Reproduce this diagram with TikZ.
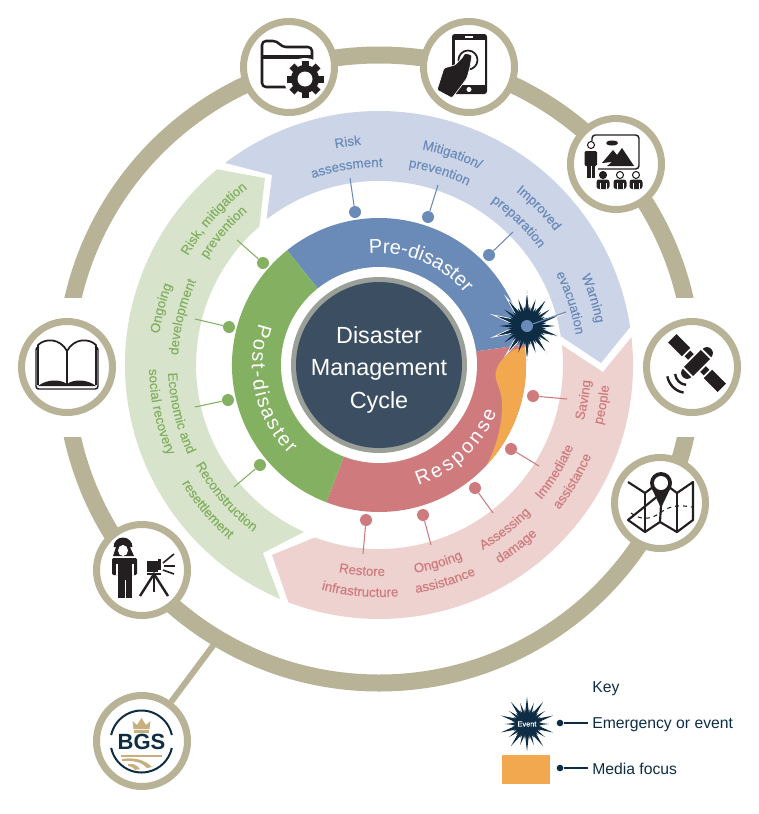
\documentclass[tikz,border=0pt]{standalone}
\usepackage{fontspec}
\setmainfont{Liberation Sans}
\newfontfamily\labelface[FakeBold=0.25]{Liberation Sans}
\usetikzlibrary{calc}
\usetikzlibrary{shapes.geometric}
\usetikzlibrary{decorations.text}

\definecolor{ringtan}{HTML}{B8B396}
\definecolor{navy}{HTML}{0E2D45}
\definecolor{slate}{HTML}{3C4F62}
\definecolor{slategrey}{HTML}{9A9F98}
\definecolor{predark}{HTML}{6A8BB8}
\definecolor{prelight}{HTML}{CCD5E7}
\definecolor{respdark}{HTML}{CF7B7E}
\definecolor{resplight}{HTML}{EED2CF}
\definecolor{postdark}{HTML}{83B061}
\definecolor{postlight}{HTML}{D7E3CA}
\definecolor{mediaorange}{HTML}{F2A84E}
\definecolor{icongrey}{HTML}{231F20}
\definecolor{crowntan}{HTML}{C8B07E}

\tikzset{
    iconring/.style={circle,draw=ringtan,line width=5.25pt,fill=white,minimum size=68.25pt,inner sep=0pt},
    pindot/.style={circle,minimum size=9pt,inner sep=0pt},
    pinline/.style={line width=0.8pt},
    eventlong/.style={star,star points=10,star point ratio=3.6,fill=navy,inner sep=0pt},
    eventshort/.style={star,star points=20,star point ratio=1.7,fill=navy,inner sep=0pt},
    keytext/.style={anchor=west,text=navy,font=\fontsize{11.8}{14}\selectfont,inner sep=0pt},
    keydot/.style={circle,fill=navy,minimum size=5pt,inner sep=0pt},
    iconstroke/.style={icongrey,line width=1.6pt,line join=round}
}

\newcommand{\labelfont}{\labelface\fontsize{10}{12}\selectfont}
\newcommand{\ringfont}{\fontsize{15}{18}\selectfont}

%% curved labels: colour, baseline radius, middle angle, text
\newcommand{\cwlabel}[4]{\path[decorate,decoration={text along path,text align=center,text={|\labelfont\color{#1}|#4}}] (#3+45:#2) arc[start angle=#3+45,delta angle=-90,radius=#2];}
\newcommand{\ccwlabel}[4]{\path[decorate,decoration={text along path,text align=center,text={|\labelfont\color{#1}|#4}}] (#3-45:#2) arc[start angle=#3-45,delta angle=90,radius=#2];}

\begin{document}
\begin{tikzpicture}[x=0.75pt,y=0.75pt]
    \useasboundingbox (0,0) rectangle (758,-814);

    %% big outer ring with its two gaps
    \draw[ringtan,line width=12.75pt] (379,-369) circle (314);
    \fill[white] (0,-298) rectangle (758,-437);

    %% arrow bands, ring and middle
    \begin{scope}[shift={(379,-365)}]
        \fill[prelight] (127.3:254) arc[start angle=127.3,end angle=8.6,radius=254] -- (0.5:222) -- (9:184) arc[start angle=9,end angle=127.7,radius=184] -- (119.4:218) -- cycle;
        \fill[resplight] (6.3:254) arc[start angle=6.3,end angle=-110.9,radius=254] -- (-119.4:218) -- (-110.4:184) arc[start angle=-110.4,end angle=6.2,radius=184] -- (-1.8:224) -- cycle;
        \fill[postlight] (247.1:254) arc[start angle=247.1,end angle=129.6,radius=254] -- (121.4:219) -- (130.8:183) arc[start angle=130.8,end angle=245.8,radius=183] -- (238.3:221) -- cycle;

        \fill[predark] (128.7:147) arc[start angle=128.7,end angle=8,radius=147] -- (0,0) -- cycle;
        \fill[respdark] (8:147) arc[start angle=8,end angle=-111,radius=147] -- (0,0) -- cycle;
        \fill[postdark] (249:147) arc[start angle=249,end angle=128.7,radius=147] -- (0,0) -- cycle;
        \fill[mediaorange] (7:147) arc[start angle=7,end angle=-43,radius=147] .. controls (116,-85) and (124,-60) .. (123,-38) .. controls (122,-20) and (113,-15) .. (118,-3) .. controls (121,5) and (128,10) .. (134,15) -- cycle;

        \fill[white] (0,0) circle (98);
        \fill[slategrey] (0,0) circle (88);
        \fill[slate] (0,0) circle (83);

        %% ring titles
        \path[decorate,decoration={text along path,text align=fit to path,text={|\ringfont\color{white}|Pre-disaster}}] (95:112) arc[start angle=95,end angle=40,radius=112];
        \path[decorate,decoration={text along path,text align=fit to path,text={|\ringfont\color{white}|Post-disaster}}] (161:127) arc[start angle=161,end angle=225,radius=127];
        \path[decorate,decoration={text along path,text align=fit to path,text={|\ringfont\color{white}|Response}}] (-72:127) arc[start angle=-72,end angle=-22,radius=127];

        %% band labels
        \cwlabel{predark}{221}{98}{Risk}
        \cwlabel{predark}{198}{99.3}{assessment}
        \cwlabel{predark}{220}{70.8}{Mitigation/}
        \cwlabel{predark}{200}{72.6}{prevention}
        \cwlabel{predark}{221}{44.5}{Improved}
        \cwlabel{predark}{198}{45.8}{preparation}
        \cwlabel{predark}{221}{17.3}{Warning}
        \cwlabel{predark}{199}{18}{evacuation}

        \ccwlabel{respdark}{212}{-9.7}{Saving}
        \ccwlabel{respdark}{231}{-10.1}{people}
        \ccwlabel{respdark}{211}{-31.3}{Immediate}
        \ccwlabel{respdark}{231}{-31}{assistance}
        \ccwlabel{respdark}{212}{-52.5}{Assessing}
        \ccwlabel{respdark}{232}{-52.9}{damage}
        \ccwlabel{respdark}{211}{-73.4}{Ongoing}
        \ccwlabel{respdark}{231}{-73}{assistance}
        \ccwlabel{respdark}{211}{-94.7}{Restore}
        \ccwlabel{respdark}{232}{-94.8}{infrastructure}

        \cwlabel{postdark}{220}{138.5}{Risk, mitigation}
        \cwlabel{postdark}{202}{139.5}{prevention}
        \cwlabel{postdark}{222}{165.4}{Ongoing}
        \cwlabel{postdark}{201}{166.3}{development}
        \ccwlabel{postdark}{211}{193.6}{Economic and}
        \ccwlabel{postdark}{230}{192.1}{social recovery}
        \ccwlabel{postdark}{209}{220.8}{Reconstruction}
        \ccwlabel{postdark}{230}{220.1}{resettlement}
    \end{scope}

    \node[align=center,text=white,font=\fontsize{17.5}{24.4}\selectfont] (title) at (379,-369.5) {Disaster\\Management\\Cycle};

    %% emergency star
    \node[eventlong,draw=white,line width=0.5pt,minimum size=54pt] (eventa) at (527,-326) {};
    \node[eventlong,minimum size=42pt,rotate=18] (eventb) at (527,-326) {};
    \node[eventshort,minimum size=30pt,rotate=9] (eventc) at (527,-326) {};

    %% pins on the ring
    \foreach \name/\xa/\ya/\xb/\yb in {risk/355/212/350/178,mitigation/428/217/438/185,improved/489/255/513/232,warning/527/326/566/312} {
        \node[pindot,fill=predark] (\name dot) at (\xa,-\ya) {};
        \coordinate (\name end) at (\xb,-\yb);
        \draw[pinline,predark] (\name dot) -- (\name end);
    }
    \foreach \name/\xa/\ya/\xb/\yb in {saving/533/396/567/399,immediate/511/449/539/466,assessing/475/488/493/513,ongoing/423/515/431/545,restore/366/520/363/554} {
        \node[pindot,fill=respdark] (\name dot) at (\xa,-\ya) {};
        \coordinate (\name end) at (\xb,-\yb);
        \draw[pinline,respdark] (\name dot) -- (\name end);
    }
    \foreach \name/\xa/\ya/\xb/\yb in {mitigate/263/263/237/240,develop/229/327/195/319,economic/228/400/195/407,rebuild/260/465/234/487} {
        \node[pindot,fill=postdark] (\name dot) at (\xa,-\ya) {};
        \coordinate (\name end) at (\xb,-\yb);
        \draw[pinline,postdark] (\name dot) -- (\name end);
    }

    %% icon circles
    \node[iconring] (folder) at (289,-67) {};
    \node[iconring] (phone) at (469,-67) {};
    \node[iconring] (teach) at (616,-164) {};
    \node[iconring] (satellite) at (692,-367) {};
    \node[iconring] (map) at (660,-503) {};
    \node[iconring] (survey) at (142,-570) {};
    \node[iconring] (book) at (67,-367) {};
    \node[iconring] (bgs) at (142,-741) {};
    \coordinate (bgsfoot) at (215,-643);
    \draw[ringtan,line width=4.5pt] (bgs) -- (bgsfoot);

    %% folder
    \draw[iconstroke,line width=1.9pt,rounded corners=3] (262,-56) -- (262,-41) -- (277,-41) -- (282,-47) -- (312,-47) -- (312,-87) -- (262,-87) -- cycle;
    \fill[icongrey] (262,-55) rectangle (312,-59);
    \fill[white] (305,-79) circle (21);
    \foreach \a in {0,45,...,315} {
        \fill[icongrey,shift={(305,-79)},rotate=\a] (-3.5,8) rectangle (3.5,18.5);
    }
    \fill[icongrey] (305,-79) circle (14);
    \fill[white] (305,-79) circle (7.5);

    %% phone
    \fill[icongrey,rounded corners=2] (452,-34) rectangle (487,-94);
    \fill[white] (454.5,-39.5) rectangle (484.5,-85);
    \fill[white] (465,-36) rectangle (473,-37.5);
    \fill[white] (469,-89.5) circle (2.5);
    \draw[icongrey,line width=1.3pt] (468,-60) circle (9.5);
    \fill[icongrey,draw=white,line width=0.5pt,rounded corners=1] (437,-90) -- (444,-68) -- (455,-65) -- (462,-58) -- (465,-53) -- (472,-55) -- (470,-67) -- (467,-78) -- (462,-85) -- (452,-98) -- cycle;

    %% teaching
    \draw[iconstroke,line width=1.1pt,rounded corners=2.5] (592,-141) -- (592,-135) -- (639,-135) -- (639,-169) -- (598,-169);
    \fill[icongrey] (602,-163) -- (613,-150) -- (617,-155) -- (622,-148) -- (634,-166) -- (607,-166) -- (612,-162) -- cycle;
    \fill[icongrey] (612,-143) ellipse [x radius=6,y radius=2.5];
    \draw[icongrey,line width=0.8pt] (591,-145) circle (3.5);
    \fill[icongrey,rounded corners=1] (584.5,-151) rectangle (597,-166);
    \fill[icongrey] (587,-160) rectangle (595,-178);
    \fill[white] (590.6,-166) rectangle (591.4,-178);
    \foreach \x in {603,620,636} {
        \fill[icongrey,rounded corners=2] (\x-6.5,-189) rectangle (\x+6.5,-179.5);
        \draw[icongrey,line width=0.8pt] (\x,-175) circle (3.5);
        \fill[white] (\x-3.2,-183) rectangle (\x-2.7,-189);
        \fill[white] (\x+2.7,-183) rectangle (\x+3.2,-189);
    }
    \fill[icongrey] (603,-175) circle (3.5);

    %% satellite
    \begin{scope}[shift={(697,-363)},rotate=-45]
        \fill[icongrey] (-6.5,-12) rectangle (6.5,12);
        \fill[icongrey] (8.5,-4) rectangle (13.5,4);
        \fill[icongrey] (-13.5,-4) rectangle (-8.5,4);
        \fill[icongrey] (15.5,-6) rectangle (35,6);
        \fill[icongrey] (-35,-6) rectangle (-15.5,6);
        \fill[icongrey] (-6,14) arc[start angle=180,end angle=0,radius=6] -- cycle;
        \fill[icongrey] (-6,-14) arc[start angle=180,end angle=360,radius=6] -- cycle;
        \draw[icongrey,line width=1.8pt] (-7.7,-23.2) arc[start angle=230,end angle=310,radius=12];
        \draw[icongrey,line width=1.8pt] (-11.5,-30.4) arc[start angle=235,end angle=305,radius=20];
    \end{scope}

    %% map
    \draw[iconstroke] (628,-482) -- (645,-493) -- (653,-487);
    \draw[iconstroke] (669,-487) -- (677,-493) -- (693,-482) -- (693,-520) -- (677,-532) -- (660,-522) -- (645,-532) -- (628,-520) -- cycle;
    \draw[iconstroke] (645,-493) -- (645,-532);
    \draw[iconstroke] (677,-493) -- (677,-532);
    \draw[iconstroke] (661,-505) -- (660,-522);
    \draw[icongrey,line width=0.8pt,dashed] (631,-513) .. controls (640,-520) and (650,-520) .. (660,-513) .. controls (670,-505) and (680,-505) .. (692,-507);
    \fill[icongrey] (652,-489) -- (661,-508) -- (670,-489) -- cycle;
    \fill[icongrey] (661,-483) circle (11);
    \fill[white] (661,-483) circle (7);

    %% surveyor
    \fill[icongrey] (113.5,-547) arc[start angle=180,end angle=0,radius=9.5] -- cycle;
    \fill[icongrey] (113,-556) -- (116,-547) -- (130,-547) -- (134,-556) -- cycle;
    \fill[white] (123,-550.5) ellipse [x radius=5,y radius=5.5];
    \fill[icongrey,rounded corners=1] (112,-558) rectangle (137,-575);
    \fill[icongrey] (118,-558) rectangle (132,-598);
    \fill[white] (116,-564) rectangle (118,-575);
    \fill[white] (132,-564) rectangle (134,-575);
    \fill[white] (124.5,-580) rectangle (125.5,-598);
    \fill[icongrey] (147,-561) rectangle (158,-572);
    \fill[icongrey] (158,-559) rectangle (160.5,-570);
    \fill[icongrey] (147,-573) rectangle (161,-575);
    \draw[icongrey,line width=1.8pt] (140,-596) -- (154,-574) -- (168,-596);
    \draw[icongrey,line width=1.6pt] (154,-574) -- (154,-592);
    \draw[icongrey,line width=1.2pt] (163,-563) -- (174,-554);
    \draw[icongrey,line width=1.2pt] (164,-566) -- (175,-566);
    \draw[icongrey,line width=1.2pt] (163,-570) -- (174,-574);

    %% book
    \draw[iconstroke,line width=1.1pt,rounded corners=2] (38,-347) -- (36,-347) -- (36,-389) -- (98,-389) -- (98,-347) -- (96,-347);
    \draw[iconstroke,line width=1.3pt] (67,-351) .. controls (60,-338) and (45,-338) .. (38,-345) -- (38,-385);
    \draw[iconstroke,line width=1.3pt] (67,-351) .. controls (74,-338) and (89,-338) .. (96,-345) -- (96,-385);
    \draw[icongrey,line width=1.7pt] (67,-351) -- (67,-386);
    \fill[icongrey] (38,-386) .. controls (47,-379) and (60,-379) .. (67,-384) .. controls (74,-379) and (87,-379) .. (96,-386) -- cycle;

    %% BGS badge
    \draw[navy,line width=1.5pt] (12:31) ++(141.5,-741.5) arc[start angle=12,end angle=168,radius=31];
    \draw[navy,line width=1.5pt] (192:31) ++(141.5,-741.5) arc[start angle=192,end angle=348,radius=31];
    \fill[crowntan] (132.5,-721) -- (137,-725) -- (141.5,-718) -- (146,-725) -- (150.5,-721) -- (149.5,-729) -- (133.5,-729) -- cycle;
    \fill[crowntan] (134,-730) rectangle (149,-733);
    \node[text=navy,font=\fontsize{16.5}{18}\bfseries,inner sep=0pt] (bgstext) at (141.5,-742) {BGS};
    \fill[crowntan] (121,-755) -- (162,-755) -- (162,-757) -- (121,-757) -- cycle;
    \fill[crowntan] (122,-759) .. controls (135,-757) and (145,-760) .. (152,-767) -- (147,-768) .. controls (142,-762) and (132,-760) .. (122,-761) -- cycle;
    \fill[crowntan] (128,-764) .. controls (133,-763) and (137,-765) .. (140,-769) -- (135,-770) .. controls (133,-767) and (130,-766) .. (128,-766) -- cycle;

    %% key
    \node[keytext] (keytitle) at (592,-688.5) {Key};
    \node[keytext] (keyevent) at (592,-724.5) {Emergency or event};
    \node[keytext] (keymedia) at (592,-768.5) {Media focus};
    \node[eventlong,minimum size=41pt] (keystara) at (527,-724) {};
    \node[eventlong,minimum size=33pt,rotate=18] (keystarb) at (527,-724) {};
    \node[eventshort,minimum size=23pt,rotate=9] (keystarc) at (527,-724) {};
    \node[text=white,font=\labelface\fontsize{5.5}{6}\selectfont,inner sep=0pt] (keystartext) at (527,-724) {Event};
    \node[fill=mediaorange,minimum width=36pt,minimum height=21.75pt,inner sep=0pt] (keybox) at (526,-769.5) {};
    \node[keydot] (keydota) at (560,-723) {};
    \node[keydot] (keydotb) at (560,-768) {};
    \coordinate (keyenda) at (588,-723);
    \coordinate (keyendb) at (588,-768);
    \draw[navy,line width=0.8pt] (keydota) -- (keyenda);
    \draw[navy,line width=0.8pt] (keydotb) -- (keyendb);
\end{tikzpicture}
\end{document}
